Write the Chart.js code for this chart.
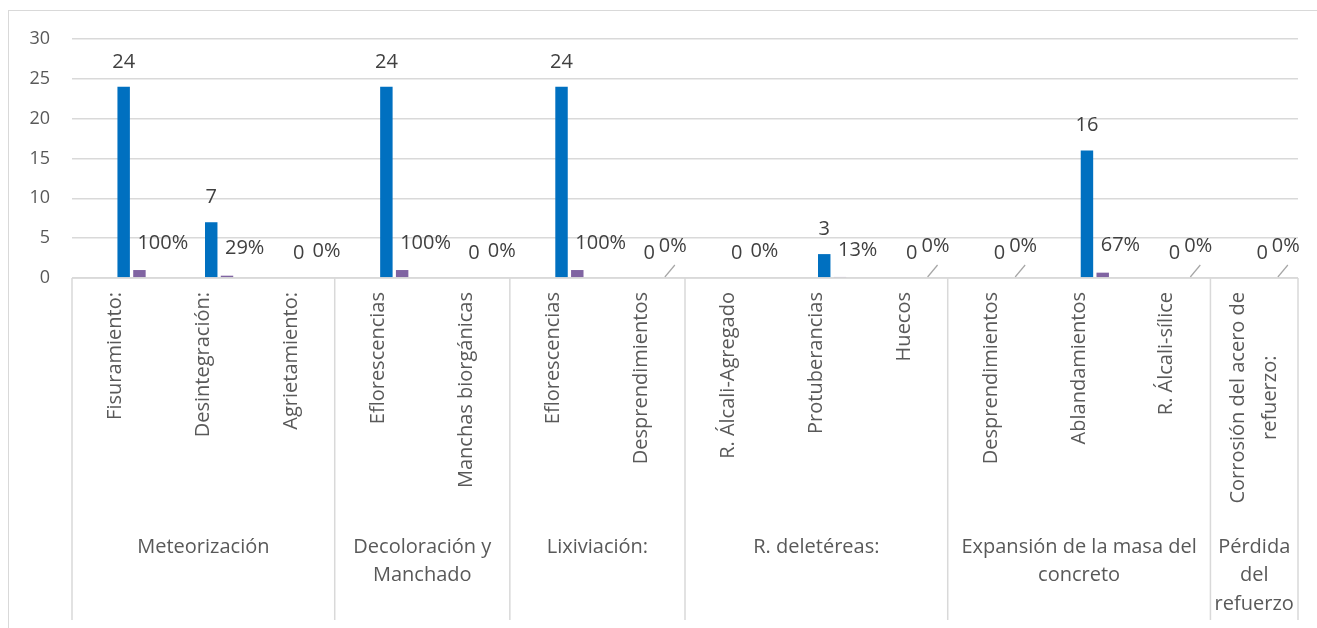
<!DOCTYPE html>
<html lang="es">
<head>
<meta charset="UTF-8">
<title>Lesiones del concreto</title>
<script src="https://cdn.jsdelivr.net/npm/chart.js"></script>
<style>
  html, body { margin: 0; padding: 0; overflow: hidden; background: #fff; }
  .marco {
    position: absolute;
    left: 8px;
    top: 10px;
    width: 1330px;
    height: 640px;
    border: 1px solid #d9d9d9;
  }
  #grafico { position: absolute; left: 0; top: 0; }
</style>
</head>
<body>
<div class="marco"></div>
<canvas id="grafico" width="1317" height="628"></canvas>

<script>
// datos
const subcategorias = ["Fisuramiento:", "Desintegración:", "Agrietamiento:", "Eflorescencias", "Manchas biorgánicas",
  "Eflorescencias", "Desprendimientos", "R. Álcali-Agregado", "Protuberancias", "Huecos",
  "Desprendimientos", "Ablandamientos", "R. Álcali-sílice", ["Corrosión del acero de", "refuerzo:"]];
const grupos = [["Meteorización"], ["Decoloración y", "Manchado"], ["Lixiviación:"], ["R. deletéreas:"],
  ["Expansión de la masa del", "concreto"], ["Pérdida", "del", "refuerzo"]];
const tamanoGrupos = [3, 2, 2, 3, 3, 1];
const cantidades = [24, 7, 0, 24, 0, 24, 0, 0, 3, 0, 0, 16, 0, 0];
const porcentajes = [1, 0.29, 0, 1, 0, 1, 0, 0, 0.13, 0, 0, 0.67, 0, 0];
const serieVacia = [null, null, null, null, null, null, null, null, null, null, null, null, null, null];

const textoEje = "#595959";
const textoDato = "#404040";
const fuente = "'Open Sans', sans-serif";

// etiquetas de datos (cantidad encima, porcentaje al lado)
const etiquetas = {
  id: 'etiquetas',
  afterDatasetsDraw(chart, args, opts) {
    const ctx = chart.ctx;
    ctx.save();
    ctx.font = "20px " + fuente;
    ctx.fillStyle = textoDato;
    ctx.textBaseline = "middle";

    const azul = chart.getDatasetMeta(2).data;
    ctx.textAlign = "center";
    azul.forEach((el, i) => {
      ctx.fillText(String(cantidades[i]), el.x, el.y - 25);
    });

    const morado = chart.getDatasetMeta(3).data;
    ctx.textAlign = "left";
    morado.forEach((el, i) => {
      const txt = Math.round(porcentajes[i] * 100) + "%";
      if (opts.guias.includes(i)) {
        ctx.strokeStyle = "#a6a6a6";
        ctx.lineWidth = 1.2;
        ctx.beginPath();
        ctx.moveTo(el.x, el.base - 1);
        ctx.lineTo(el.x + 10, el.base - 13);
        ctx.stroke();
        ctx.fillText(txt, el.x - 6, el.base - 32);
      } else {
        ctx.fillText(txt, el.x - 2, el.y - 27);
      }
    });
    ctx.restore();
  }
};

// eje de categorias en dos niveles
const ejeMultinivel = {
  id: 'ejeMultinivel',
  afterDraw(chart) {
    const ctx = chart.ctx;
    const x = chart.scales.x;
    const area = chart.chartArea;
    const paso = x.getPixelForTick(1) - x.getPixelForTick(0);
    const borde = i => x.getPixelForTick(0) - paso / 2 + paso * i;

    ctx.save();
    ctx.strokeStyle = "#d9d9d9";
    ctx.lineWidth = 1.5;
    ctx.beginPath();
    ctx.moveTo(area.left, area.bottom);
    ctx.lineTo(area.right, area.bottom);
    let acum = 0;
    const cortes = [0];
    tamanoGrupos.forEach(n => { acum += n; cortes.push(acum); });
    cortes.forEach(k => {
      ctx.moveTo(borde(k), area.bottom);
      ctx.lineTo(borde(k), 620);
    });
    ctx.stroke();

    ctx.fillStyle = textoEje;
    ctx.font = "20px " + fuente;
    ctx.textBaseline = "middle";
    subcategorias.forEach((lab, i) => {
      const lineas = Array.isArray(lab) ? lab : [lab];
      const anchoMax = Math.max(...lineas.map(l => ctx.measureText(l).width));
      ctx.save();
      ctx.translate(x.getPixelForTick(i), area.bottom + 14);
      ctx.rotate(-Math.PI / 2);
      ctx.textAlign = "center";
      lineas.forEach((l, j) => {
        ctx.fillText(l, -anchoMax / 2, (j - (lineas.length - 1) / 2) * 32);
      });
      ctx.restore();
    });

    ctx.textAlign = "center";
    grupos.forEach((g, k) => {
      const cx = (borde(cortes[k]) + borde(cortes[k + 1])) / 2;
      g.forEach((l, j) => ctx.fillText(l, cx, area.bottom + 269 + j * 28.5));
    });
    ctx.restore();
  }
};

new Chart(document.getElementById("grafico"), {
  type: 'bar',
  data: {
    labels: subcategorias,
    datasets: [
      { label: "", data: serieVacia },
      { label: "", data: serieVacia },
      { label: "Cantidad", data: cantidades, backgroundColor: "#0070C0" },
      { label: "Porcentaje", data: porcentajes, backgroundColor: "#8064A2" }
    ]
  },
  options: {
    responsive: false,
    devicePixelRatio: 1,
    animation: false,
    categoryPercentage: 0.72,
    barPercentage: 0.79,
    layout: { padding: { top: 39, right: 19, left: 0, bottom: 0 } },
    plugins: {
      legend: { display: false },
      tooltip: { enabled: false },
      etiquetas: { guias: [6, 9, 10, 12, 13] }
    },
    scales: {
      x: {
        ticks: { display: false },
        grid: { display: false },
        border: { display: false },
        afterFit: s => { s.height = 350; }
      },
      y: {
        min: 0,
        max: 30,
        ticks: { stepSize: 5, padding: 22, color: textoEje, font: { family: fuente, size: 18 } },
        grid: { color: "#d9d9d9", lineWidth: 1.5, drawTicks: false },
        border: { display: false },
        afterFit: s => { s.width = 72; }
      }
    }
  },
  plugins: [etiquetas, ejeMultinivel]
});
</script>
</body>
</html>
